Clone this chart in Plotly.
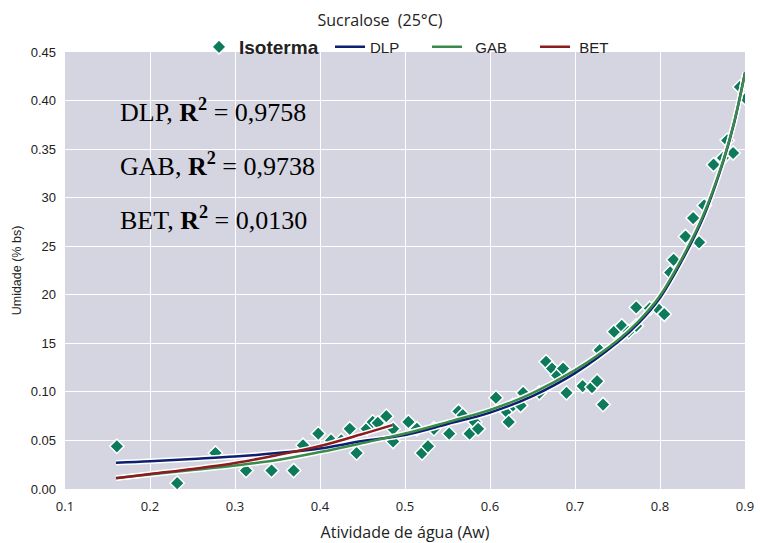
import plotly.graph_objects as go

# Experimental points (Isoterma)
aw = [0.161, 0.232, 0.277, 0.313, 0.343, 0.369, 0.380, 0.398, 0.413, 0.425,
      0.435, 0.443, 0.455, 0.462, 0.468, 0.478, 0.486, 0.486, 0.504, 0.514,
      0.520, 0.527, 0.534, 0.552, 0.563, 0.568, 0.576, 0.582, 0.586, 0.607,
      0.619, 0.622, 0.627, 0.636, 0.639, 0.658, 0.666, 0.673, 0.679, 0.686,
      0.690, 0.709, 0.720, 0.726, 0.729, 0.733, 0.746, 0.755, 0.763, 0.772,
      0.772, 0.788, 0.796, 0.805, 0.812, 0.816, 0.830, 0.839, 0.846, 0.852,
      0.863, 0.874, 0.879, 0.886, 0.894, 0.901]
umidade = [0.044, 0.006, 0.037, 0.019, 0.019, 0.019, 0.045, 0.057, 0.050, 0.050,
           0.062, 0.037, 0.062, 0.069, 0.068, 0.075, 0.062, 0.049, 0.069, 0.062,
           0.037, 0.044, 0.062, 0.057, 0.080, 0.076, 0.057, 0.069, 0.062, 0.094,
           0.080, 0.069, 0.086, 0.086, 0.099, 0.099, 0.131, 0.124, 0.117, 0.124,
           0.099, 0.106, 0.105, 0.111, 0.143, 0.087, 0.162, 0.168, 0.162, 0.168,
           0.187, 0.186, 0.187, 0.180, 0.223, 0.236, 0.260, 0.279, 0.254, 0.292,
           0.334, 0.341, 0.359, 0.346, 0.414, 0.402]

# Fitted model curves
dlp_aw = [0.16, 0.20, 0.25, 0.30, 0.35, 0.40, 0.45, 0.50, 0.55, 0.60, 0.65,
          0.70, 0.75, 0.775, 0.80, 0.825, 0.85, 0.875, 0.8875, 0.90]
dlp_u = [0.0271, 0.0285, 0.0309, 0.0334, 0.0370, 0.0417, 0.0494, 0.0556, 0.0669,
         0.0787, 0.0957, 0.1193, 0.1510, 0.1710, 0.1970, 0.2340, 0.2780, 0.3390,
         0.3780, 0.4290]

gab_aw = [0.16, 0.20, 0.25, 0.30, 0.35, 0.40, 0.45, 0.50, 0.55, 0.60, 0.65,
          0.70, 0.75, 0.775, 0.80, 0.825, 0.85, 0.875, 0.8875, 0.90]
gab_u = [0.0113, 0.0149, 0.0195, 0.0242, 0.0298, 0.0380, 0.0473, 0.0571, 0.0689,
         0.0813, 0.0988, 0.1224, 0.1530, 0.1730, 0.1990, 0.2360, 0.2800, 0.3400,
         0.3790, 0.4280]

bet_aw = [0.16, 0.20, 0.25, 0.30, 0.35, 0.40, 0.45, 0.485]
bet_u = [0.0110, 0.0154, 0.0206, 0.0267, 0.0350, 0.0442, 0.0566, 0.0658]

y_tickvals = [0.00, 0.05, 0.10, 0.15, 0.20, 0.25, 0.30, 0.35, 0.40, 0.45]
y_ticktext = ["0.00", "0.05", "0.10", "15", "20", "25", "30", "0.35", "0.40", "0.45"]
x_tickvals = [0.1, 0.2, 0.3, 0.4, 0.5, 0.6, 0.7, 0.8, 0.9]
x_ticktext = ["0.1", "0.2", "0.3", "0.4", "0.5", "0.6", "0.7", "0.8", "0.9"]

annot_text = ["DLP, <b>R<sup>2</sup></b> = 0,9758",
              "GAB, <b>R<sup>2</sup></b> = 0,9738",
              "BET, <b>R<sup>2</sup></b> = 0,0130"]
annot_y = [0.390, 0.334, 0.279]

c_pts = "#0c7a5b"
c_dlp = "#0d1f70"
c_gab = "#3a8a4c"
c_bet = "#8c1c1f"

fig = go.Figure()

fig.add_trace(go.Scatter(x=aw, y=umidade, mode="markers", name="<b>Isoterma</b>",
                         legend="legend",
                         marker=dict(symbol="diamond", size=11, color=c_pts,
                                     line=dict(color="white", width=1.5))))

curves = [(dlp_aw, dlp_u, c_dlp, "DLP", "legend2"),
          (gab_aw, gab_u, c_gab, "\u00a0\u00a0GAB", "legend3"),
          (bet_aw, bet_u, c_bet, "\u00a0BET", "legend4")]
for xs, ys, col, nm, lg in curves:
    fig.add_trace(go.Scatter(x=xs, y=ys, mode="lines", showlegend=False,
                             line=dict(color="white", width=5.5, shape="spline"),
                             hoverinfo="skip"))
for xs, ys, col, nm, lg in curves:
    fig.add_trace(go.Scatter(x=xs, y=ys, mode="lines", name=nm, legend=lg,
                             line=dict(color=col, width=2.5, shape="spline")))

for t, yv in zip(annot_text, annot_y):
    fig.add_annotation(x=0.162, y=yv, xref="x", yref="y", text=t, showarrow=False,
                       xanchor="left", yanchor="middle",
                       font=dict(family="Liberation Serif, Times New Roman, serif",
                                 size=26, color="black"))

def leg(xpx, size):
    return dict(orientation="h", x=(xpx - 65) / 680, xanchor="left",
                y=(489 - 47) / 437, yanchor="middle", bgcolor="rgba(0,0,0,0)",
                font=dict(family="Liberation Sans, Arial", size=size, color="#222"),
                itemwidth=30)

fig.update_layout(
    width=760, height=543,
    paper_bgcolor="white", plot_bgcolor="#d5d5e1",
    margin=dict(l=65, r=15, t=52, b=54),
    title=dict(text="Sucralose  (25°C)", x=0.5, xanchor="center", y=0.963, yanchor="middle",
               font=dict(family="Open Sans, sans-serif", size=16, color="#222")),
    legend=leg(199, 19),
    legend2=leg(330, 15),
    legend3=leg(427, 15),
    legend4=leg(535, 15),
    showlegend=True,
    xaxis=dict(range=[0.1, 0.9], tickvals=x_tickvals, ticktext=x_ticktext,
               showgrid=True, gridcolor="white", gridwidth=1.3, zeroline=False,
               ticks="", ticklabelstandoff=8, automargin=False,
               tickfont=dict(family="Open Sans, sans-serif", size=13, color="#222"),
               title=dict(text="Atividade de água (Aw)\u00a0\u00a0\u00a0\u00a0", standoff=12,
                          font=dict(family="Open Sans, sans-serif", size=16, color="#222"))),
    yaxis=dict(range=[0, 0.45], tickvals=y_tickvals, ticktext=y_ticktext,
               showgrid=True, gridcolor="white", gridwidth=1.3, zeroline=False,
               ticks="", ticklabelstandoff=8, automargin=False,
               tickfont=dict(family="Liberation Sans, Arial", size=13, color="#222"),
               title=dict(text="Umidade (% bs)", standoff=6,
                          font=dict(family="Liberation Sans, Arial", size=12.5, color="#222"))),
)

fig.write_html("out.html")
